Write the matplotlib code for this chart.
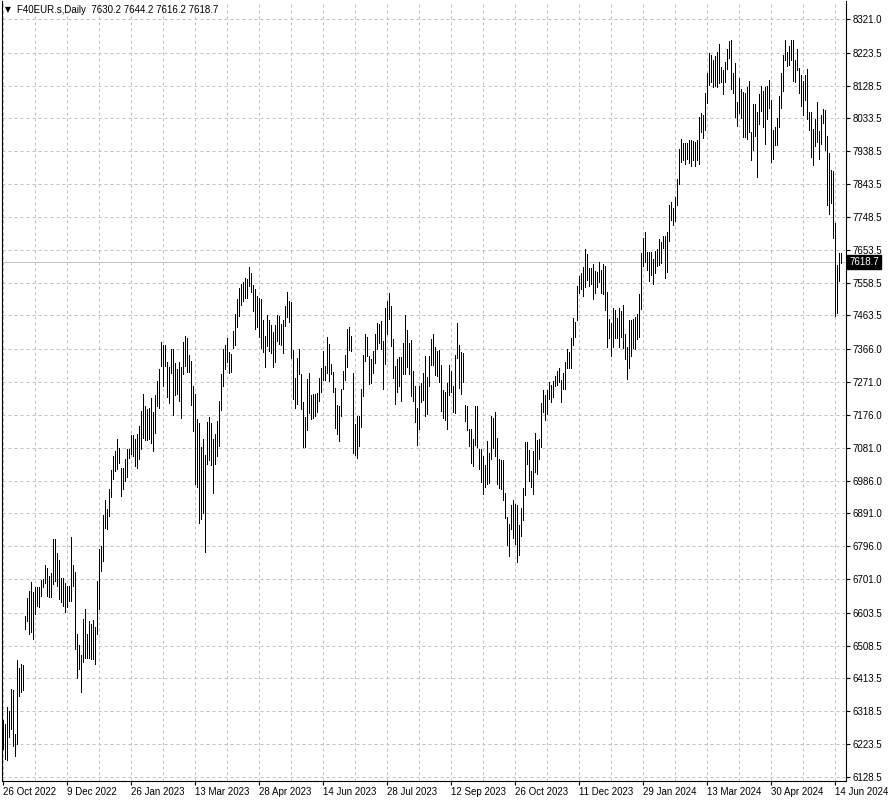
import matplotlib
matplotlib.use('Agg')
import matplotlib.pyplot as plt
from matplotlib.transforms import blended_transform_factory

plt.rcParams['font.family'] = ['Liberation Sans', 'DejaVu Sans']

# ---- data (daily bars, high / low) ----
highs = [
    6292, 6282, 6331, 6319, 6383, 6379, 6254, 6467, 6444, 6456, 6451, 6595, 6646, 6667, 6693, 6664, 6677, 6677, 6677, 6699,
    6701, 6742, 6733, 6711, 6718, 6817, 6817, 6776, 6756, 6704, 6704, 6690, 6682, 6682, 6823, 6742, 6720, 6542, 6510, 6480,
    6586, 6614, 6542, 6580, 6571, 6583, 6562, 6695, 6788, 6797, 6886, 6930, 6905, 6961, 7017, 7057, 7071, 7105, 7081, 7023,
    7021, 7049, 7078, 7078, 7117, 7117, 7105, 7120, 7144,
    7187, 7236, 7202, 7192, 7195, 7226, 7183, 7233, 7274, 7308, 7388, 7378, 7378, 7329, 7313, 7367, 7366, 7325, 7308, 7330,
    7315, 7388, 7404, 7399, 7349, 7332, 7260, 7236, 7163, 7152, 7083, 7106, 7059, 7154, 7171, 7151, 7106, 7122, 7158, 7216,
    7293, 7366, 7378, 7399, 7359, 7353, 7419, 7467, 7510, 7542, 7555, 7561, 7571, 7568, 7604, 7585, 7551, 7539, 7520, 7513,
    7510, 7449, 7404, 7464, 7450, 7435, 7417, 7435, 7464, 7462, 7438,
    7451, 7491, 7532, 7505, 7501, 7364, 7282, 7340, 7366, 7295, 7214, 7170, 7279, 7296, 7234, 7236, 7236, 7238, 7282, 7311,
    7361, 7316, 7402, 7380, 7322, 7301, 7255, 7204, 7202, 7250, 7303, 7349, 7424, 7430, 7404, 7298, 7149, 7173, 7173, 7250,
    7348, 7409, 7402, 7347, 7337, 7361, 7409, 7443, 7438, 7448, 7390, 7486, 7505, 7528, 7491, 7395, 7318, 7339, 7344, 7344,
    7383, 7464, 7422, 7383, 7393, 7303, 7260, 7197, 7260, 7268,
    7297, 7345, 7285, 7345, 7395, 7410, 7371, 7362, 7364, 7321, 7249, 7243, 7268, 7320, 7304, 7259, 7349, 7442, 7378, 7359,
    7355, 7205, 7203, 7135, 7135, 7107, 7201, 7201, 7078, 7078, 7056, 7031, 7099, 7066, 7174, 7166, 7184, 7109, 7049, 7044,
    7044, 6950, 6880, 6861, 6914, 6930, 6917, 6914, 6856, 6906, 6965, 7097, 7097, 7073, 7015, 7072, 7124, 7102, 7105, 7211,
    7249, 7232, 7249, 7270, 7263, 7275, 7288, 7304, 7312, 7277,
    7298, 7330, 7367, 7359, 7398, 7457, 7446, 7549, 7579, 7587, 7605, 7655, 7641, 7602, 7600, 7612, 7592, 7590, 7617, 7595,
    7611, 7608, 7532, 7453, 7441, 7484, 7479, 7455, 7484, 7477, 7494, 7410, 7373, 7451, 7451, 7452, 7458, 7468, 7526, 7645,
    7688, 7705, 7648, 7647, 7646, 7626, 7651, 7655, 7684, 7677, 7693, 7693, 7706, 7783, 7792, 7775, 7805, 7857, 7944, 7975,
    7963, 7961, 7961, 7971, 7972, 7969, 7966, 7971, 8038, 8050,
    8043, 8108, 8166, 8222, 8217, 8202, 8214, 8226, 8250, 8183, 8173, 8198, 8233, 8257, 8260, 8166, 8195, 8082, 8149, 8119,
    8111, 8108, 8125, 8142, 7995, 8075, 8075, 8053, 8104, 8128, 8114, 8123, 8127, 8145, 8087, 7999, 8010, 8034, 8098, 8164,
    8217, 8260, 8226, 8243, 8260, 8260, 8202, 8233, 8178, 8159, 8143, 8159, 8175, 8053, 8053, 8002, 8031, 8082, 7997, 8043,
    8061, 8058, 7983, 7933, 7885, 7880, 7732, 7610, 7644, 7644.2,
]
lows = [
    6210, 6181, 6179, 6244, 6268, 6217, 6189, 6225, 6364, 6374, 6379, 6557, 6581, 6542, 6547, 6528, 6600, 6624, 6619, 6653,
    6677, 6691, 6653, 6648, 6648, 6687, 6696, 6682, 6643, 6636, 6624, 6607, 6619, 6638, 6638, 6682, 6499, 6414, 6441, 6374,
    6460, 6472, 6472, 6472, 6470, 6470, 6456, 6542, 6614, 6725, 6754, 6850, 6845, 6884, 6937, 6990, 7014, 7019, 7038, 6942,
    6961, 6985, 6995, 7052, 7062, 7057, 7028, 7021, 7048,
    7077, 7110, 7104, 7104, 7106, 7096, 7072, 7123, 7202, 7197, 7317, 7260, 7317, 7228, 7211, 7298, 7176, 7234, 7236, 7216,
    7168, 7295, 7317, 7301, 7301, 7205, 7128, 6976, 6968, 6862, 6874, 6891, 6778, 7033, 7045, 7031, 6951, 7035, 7057, 7086,
    7190, 7260, 7308, 7330, 7298, 7301, 7368, 7378, 7430, 7462, 7494, 7505, 7513, 7515, 7549, 7532, 7476, 7423, 7430, 7401,
    7368, 7359, 7313, 7375, 7361, 7354, 7313, 7330, 7390, 7380, 7378,
    7356, 7433, 7460, 7445, 7340, 7221, 7197, 7207, 7295, 7194, 7082, 7082, 7133, 7180, 7165, 7168, 7173, 7185, 7216, 7241,
    7277, 7277, 7296, 7274, 7295, 7243, 7138, 7122, 7099, 7173, 7250, 7277, 7313, 7364, 7361, 7067, 7060, 7050, 7087, 7140,
    7231, 7332, 7347, 7265, 7269, 7298, 7327, 7366, 7385, 7366, 7250, 7322, 7409, 7452, 7375, 7284, 7207, 7241, 7260, 7216,
    7294, 7294, 7313, 7294, 7231, 7216, 7154, 7089, 7135, 7212,
    7220, 7174, 7179, 7259, 7321, 7320, 7291, 7288, 7270, 7186, 7167, 7162, 7134, 7234, 7243, 7184, 7182, 7340, 7254, 7237,
    7270, 7157, 7131, 7087, 7036, 7029, 7090, 7082, 7020, 6983, 6946, 6967, 6977, 6979, 7049, 7080, 7056, 6977, 6964, 6962,
    6930, 6877, 6800, 6769, 6847, 6820, 6803, 6750, 6771, 6827, 6873, 6943, 7034, 6986, 6967, 6948, 7010, 7005, 7047, 7082,
    7184, 7162, 7179, 7222, 7214, 7227, 7259, 7261, 7272, 7212,
    7251, 7251, 7311, 7311, 7311, 7378, 7402, 7451, 7528, 7540, 7521, 7547, 7566, 7550, 7554, 7510, 7528, 7547, 7559, 7528,
    7526, 7478, 7373, 7398, 7345, 7371, 7398, 7398, 7373, 7400, 7369, 7337, 7279, 7311, 7345, 7369, 7366, 7395, 7402, 7481,
    7607, 7619, 7595, 7564, 7581, 7554, 7587, 7607, 7609, 7614, 7658, 7571, 7590, 7680, 7739, 7724, 7737, 7783, 7843, 7906,
    7913, 7901, 7915, 7905, 7896, 7913, 7895, 7913, 7903, 7995,
    7978, 8000, 8077, 8130, 8140, 8125, 8127, 8123, 8135, 8140, 8103, 8140, 8175, 8207, 8120, 8106, 8037, 8012, 8050, 8034,
    7981, 7979, 7974, 7993, 7912, 7942, 7983, 7863, 8016, 8056, 8010, 7960, 8031, 8063, 7906, 7915, 7957, 7957, 8010, 8063,
    8114, 8202, 8185, 8188, 8202, 8142, 8140, 8173, 8106, 8069, 8043, 8087, 8031, 7999, 7921, 7899, 7954, 7966, 7915, 7960,
    8021, 7942, 7783, 7757, 7788, 7689, 7461, 7472, 7562, 7616.2,
]
symbol = "F40EUR.s,Daily"
last_ohlc = [7630.2, 7644.2, 7616.2, 7618.7]
y_ticks = [8321.0, 8223.5, 8128.5, 8033.5, 7938.5, 7843.5, 7748.5, 7653.5, 7558.5, 7463.5, 7366.0, 7271.0,
           7176.0, 7081.0, 6986.0, 6891.0, 6796.0, 6701.0, 6603.5, 6508.5, 6413.5, 6318.5, 6223.5, 6128.5]
date_labels = ['26 Oct 2022', '9 Dec 2022', '26 Jan 2023', '13 Mar 2023', '28 Apr 2023', '14 Jun 2023',
               '28 Jul 2023', '12 Sep 2023', '26 Oct 2023', '11 Dec 2023', '29 Jan 2024', '13 Mar 2024',
               '30 Apr 2024', '14 Jun 2024']
label_step = 32   # bars between date labels
grid_step = 16    # bars between vertical grid lines

# ---- figure ----
W, H = 888, 802
fig = plt.figure(figsize=(W / 100, H / 100), dpi=100)
fig.patch.set_facecolor('white')
ax = fig.add_axes([2 / W, 21 / H, 844 / W, 780 / H])
ax.set_facecolor('white')

n = len(highs)
idx = list(range(n))
ax.set_xlim(-0.5, 421.5)
ax.set_ylim(6116.9, 8373.1)

grid_kw = dict(color='#c0c0c0', lw=0.72, linestyle=(0, (3, 3)))
for t in y_ticks:
    ax.axhline(t, zorder=0, **grid_kw)
for g in range(0, 422, grid_step):
    ax.axvline(g, zorder=0, **grid_kw)

# current price line
ax.axhline(last_ohlc[3], color='#c0c0c0', lw=0.72, zorder=1)

# bars (1 px wide)
ax.vlines(idx, lows, highs, colors='black', lw=0.6, antialiased=False, zorder=3)

# axes styling
for s in ['left', 'right', 'bottom']:
    ax.spines[s].set_color('black')
    ax.spines[s].set_linewidth(0.8)
ax.spines['top'].set_visible(False)

ax.yaxis.tick_right()
ax.set_yticks(y_ticks)
ax.set_yticklabels([f'{v:.1f}' for v in y_ticks])
ax.tick_params(axis='y', which='major', length=3, width=0.8, pad=1.5, labelsize=7, colors='black')

xt = [i * label_step for i in range(len(date_labels))]
ax.set_xticks(xt)
ax.set_xticklabels(date_labels)
ax.tick_params(axis='x', which='major', length=3, width=0.8, pad=1.5, labelsize=7, colors='black')
for lab in ax.get_xticklabels():
    lab.set_ha('left')

# current price tag
tr = blended_transform_factory(ax.transAxes, ax.transData)
ax.text(1.004, last_ohlc[3], f'{last_ohlc[3]:.1f}', transform=tr, ha='left', va='center',
        fontsize=7, color='white',
        bbox=dict(boxstyle='square,pad=0.2', fc='black', ec='black'))

# header
fig.text(5 / W, 1 - 10 / H, '\u25bc', fontsize=5.5, va='center', ha='left', family=['DejaVu Sans'])
fig.text(17 / W, 1 - 10 / H,
         f'{symbol}  ' + ' '.join(f'{v:.1f}' for v in last_ohlc),
         fontsize=7, va='center', ha='left', color='black')

fig.savefig('out.png', dpi=100, facecolor='white')
